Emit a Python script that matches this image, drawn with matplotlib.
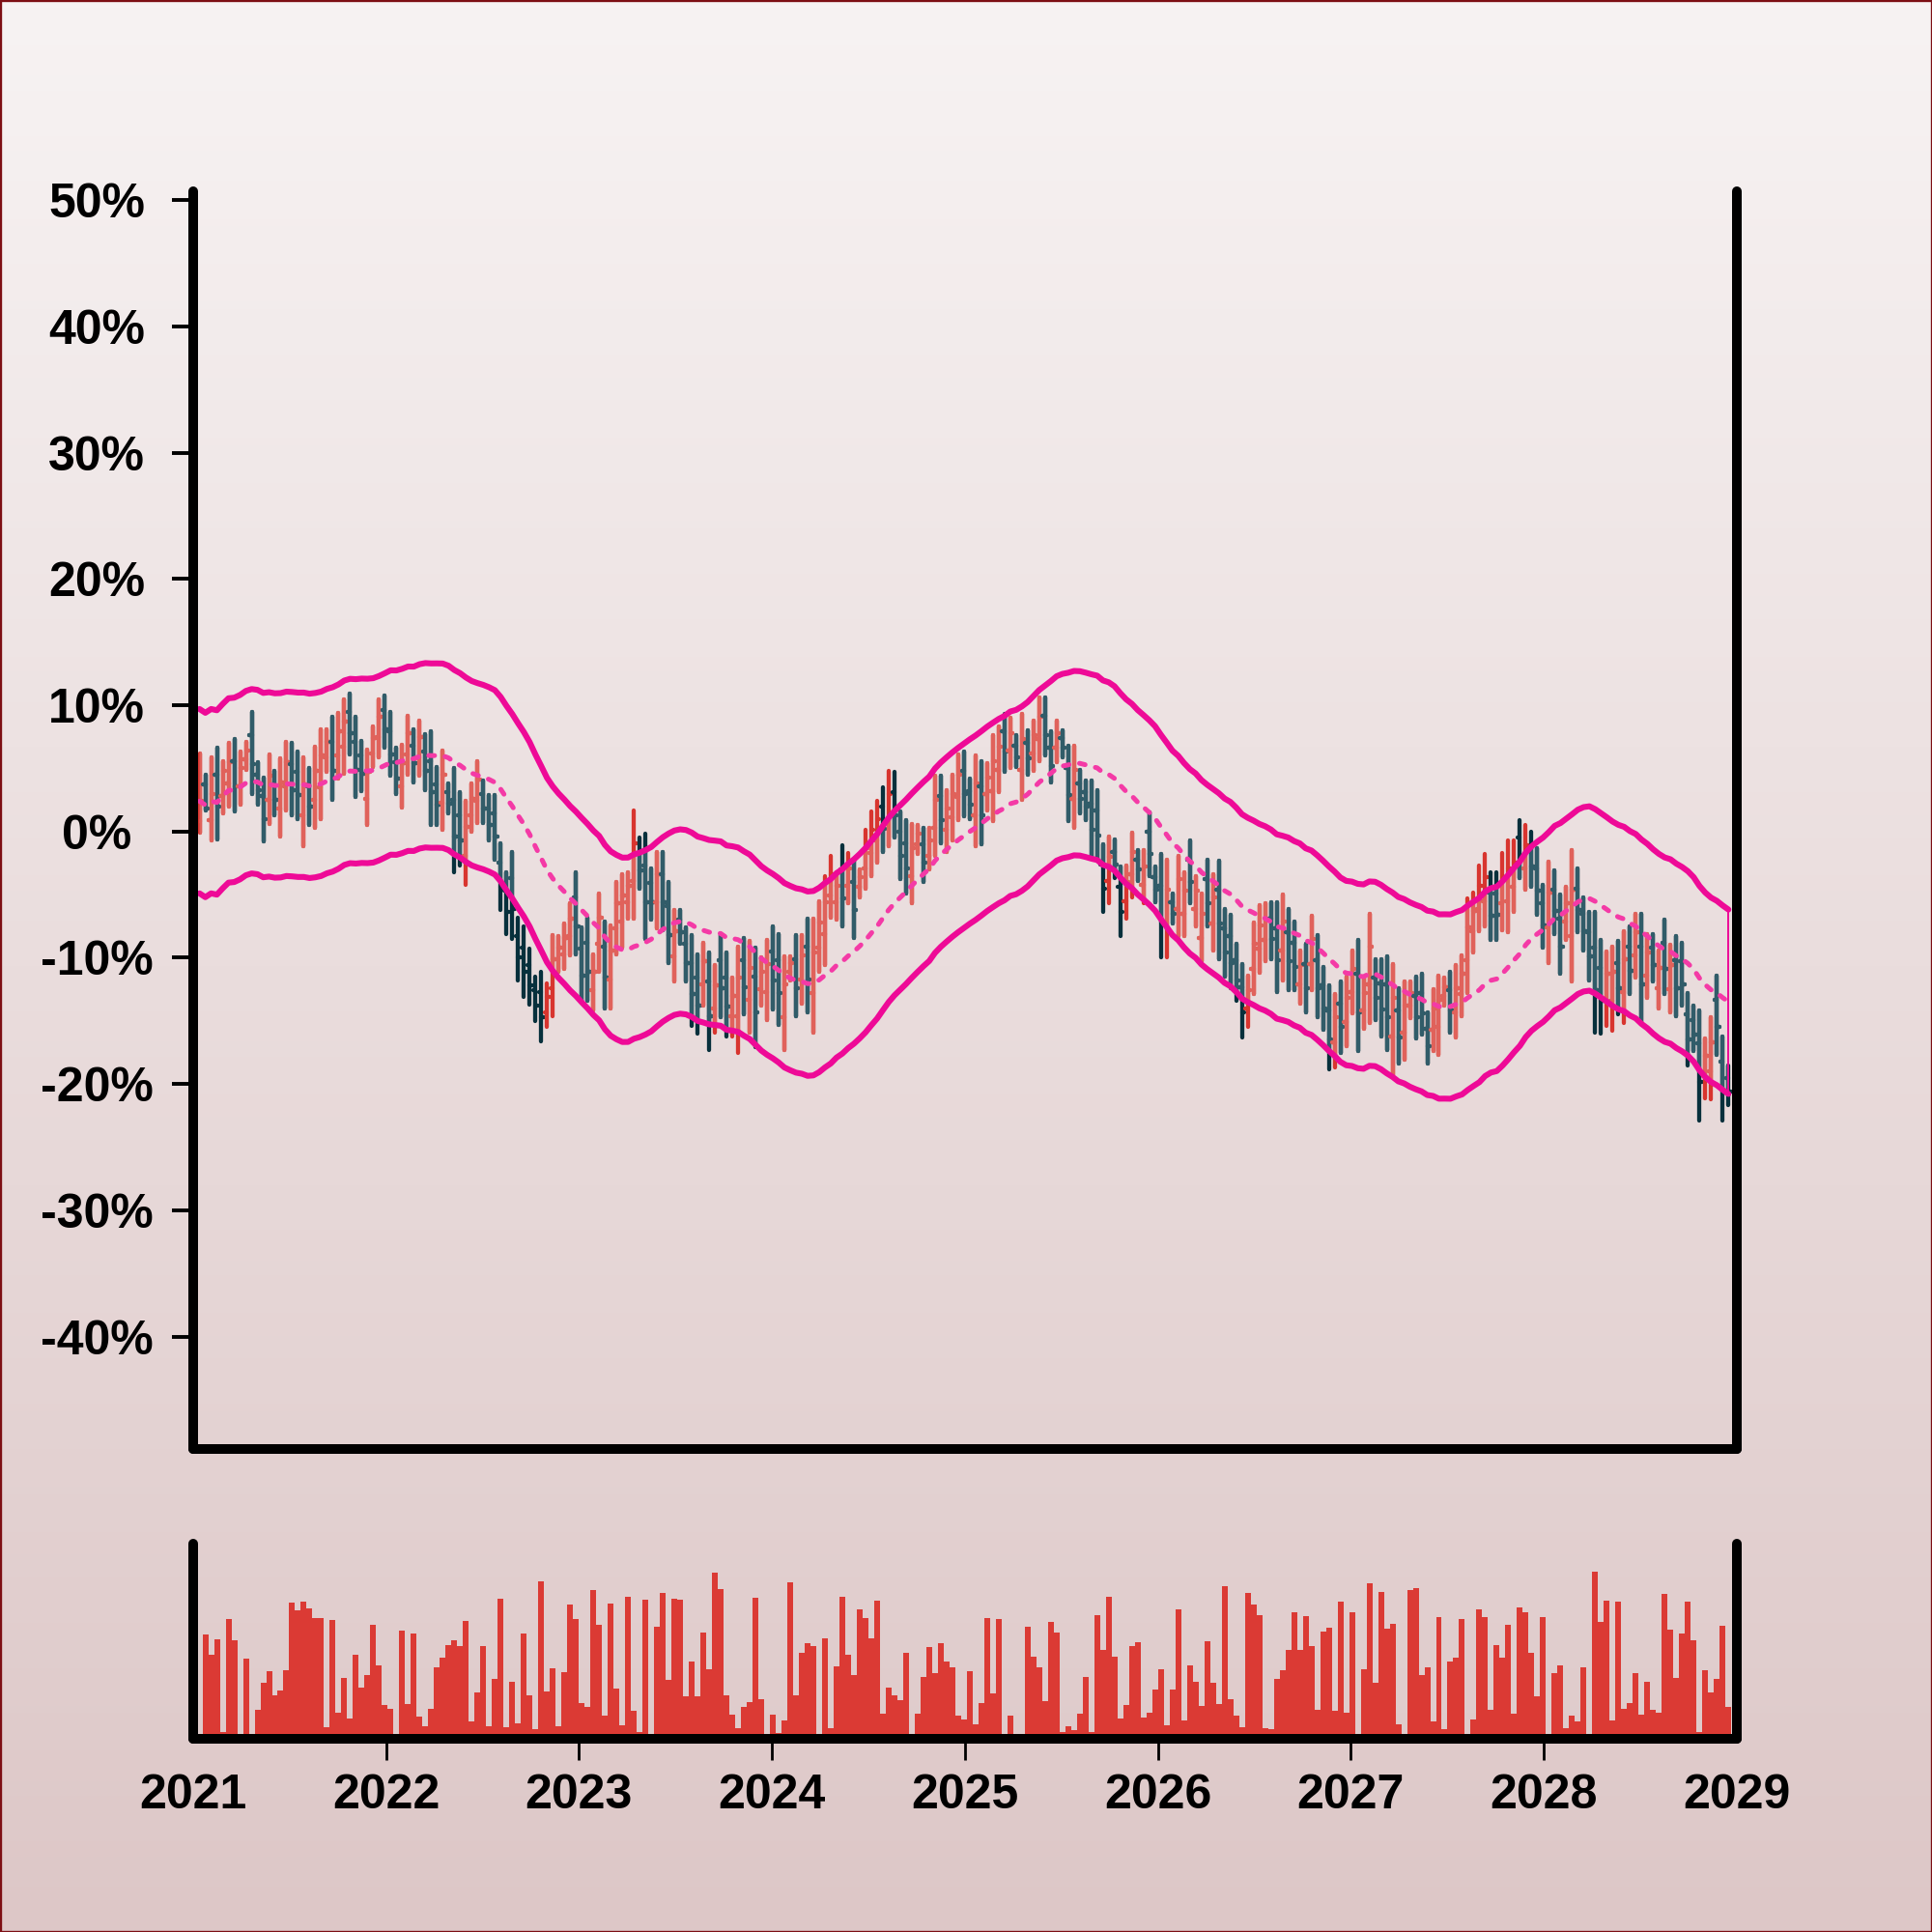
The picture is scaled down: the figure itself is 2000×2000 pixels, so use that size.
import matplotlib
matplotlib.use("Agg")
import matplotlib.pyplot as plt
import matplotlib.dates as mdates
from matplotlib.collections import LineCollection
from matplotlib.patches import Rectangle
from matplotlib.ticker import FuncFormatter
import numpy as np
import pandas as pd

# OHLC values in percent, one bar every ~11 days
highs = [
    6.2, 4.5, 5.9, 6.6, 5.6, 7.0, 7.3, 6.3, 7.1, 9.5,
    5.5, 4.3, 6.1, 4.8, 5.8, 7.1, 7.0, 6.3, 5.9, 5.0,
    6.7, 8.1, 8.1, 9.1, 9.4, 10.5, 10.9, 9.1, 7.2, 6.5,
    8.3, 10.5, 10.8, 9.5, 6.6, 6.9, 9.2, 8.1, 8.8, 7.7,
    7.9, 5.1, 6.4, 3.8, 5.0, 3.1, 2.4, 3.8, 5.6, 4.0,
    2.9, 2.9, -0.9, -3.2, -1.6, -6.8, -7.5, -9.3, -11.5, -11.1,
    -12.0, -8.2, -8.3, -7.3, -5.7, -3.2, -7.6, -6.8, -9.7, -4.9,
    -7.1, -7.4, -4.0, -3.4, -3.2, 1.7, -0.5, -0.2, -2.9, -1.6,
    -1.6, -4.0, -6.2, -6.2, -7.6, -8.2, -9.7, -8.8, -9.6, -10.6,
    -8.2, -9.6, -11.6, -9.1, -8.4, -8.7, -9.2, -10.0, -8.6, -7.5,
    -8.1, -9.9, -9.9, -8.2, -8.2, -6.9, -6.9, -5.5, -3.5, -1.9,
    -3.2, -1.1, -1.7, -2.2, -3.0, 0.1, 1.6, 2.4, 3.5, 4.8,
    4.7, 1.6, 0.9, 0.6, 0.5, 0.3, 0.3, 4.4, 4.4, 3.3,
    4.5, 6.1, 6.3, 4.2, 6.0, 5.6, 5.4, 7.6, 8.3, 9.3,
    9.0, 7.6, 9.3, 8.0, 8.8, 10.6, 10.6, 7.9, 8.8, 8.0,
    6.8, 6.8, 4.9, 4.0, 4.0, 3.3, -1.0, -0.4, -0.6, -2.8,
    -2.7, -0.1, -1.5, -1.5, 1.5, -2.8, -1.8, -2.2, -4.9, -1.9,
    -3.2, -0.7, -3.5, -4.9, -2.2, -3.4, -2.3, -6.1, -6.6, -8.9,
    -10.5, -11.4, -7.2, -5.8, -5.7, -5.6, -5.6, -5.0, -6.1, -7.1,
    -9.4, -8.9, -6.7, -8.2, -10.7, -12.2, -12.9, -11.9, -11.5, -9.4,
    -8.6, -11.6, -6.5, -10.1, -10.1, -9.9, -10.5, -12.4, -11.9, -11.9,
    -11.5, -11.3, -14.3, -12.5, -11.4, -11.6, -11.1, -10.6, -9.8, -5.3,
    -4.8, -2.7, -1.8, -3.2, -3.2, -1.7, -0.7, -0.7, 0.9, 0.5,
    0.0, -1.3, -4.2, -2.4, -3.1, -5.0, -4.4, -1.5, -2.9, -5.2,
    -6.4, -6.4, -8.6, -9.5, -9.1, -8.7, -7.9, -7.5, -6.5, -6.5,
    -8.1, -8.1, -9.4, -7.0, -9.0, -8.3, -8.8, -12.8, -13.8, -14.2,
    -16.4, -14.7, -11.4, -16.2, -18.5,
]
lows = [
    -0.1, 1.7, -0.7, -0.6, 1.4, 2.0, 1.6, 2.1, 4.9, 3.0,
    2.1, -0.8, 0.6, 1.3, -0.4, 1.7, 1.3, 1.0, -1.2, 0.5,
    0.3, 1.0, 4.7, 2.5, 4.2, 4.6, 6.1, 2.7, 3.2, 0.5,
    5.1, 5.9, 6.6, 4.4, 3.0, 1.9, 4.5, 3.9, 4.4, 3.3,
    0.5, 0.5, 0.1, 1.4, -3.2, -2.7, -4.2, 0.0, 0.7, 0.7,
    -0.7, -2.2, -6.2, -8.1, -8.5, -11.8, -13.1, -13.7, -15.0, -16.6,
    -15.5, -14.6, -11.1, -10.9, -9.8, -9.7, -13.4, -13.4, -14.2, -11.1,
    -14.0, -14.0, -9.7, -9.2, -6.9, -6.9, -4.5, -8.5, -7.0, -7.7,
    -7.8, -10.4, -11.9, -8.9, -11.9, -15.4, -16.0, -13.8, -17.3, -15.9,
    -14.7, -16.2, -16.2, -17.5, -14.5, -15.9, -17.1, -13.8, -14.9, -14.1,
    -15.3, -17.3, -11.8, -14.6, -13.6, -14.3, -15.9, -11.1, -10.6, -6.8,
    -7.0, -7.5, -5.7, -8.4, -5.2, -4.5, -3.5, -2.5, -1.6, -1.2,
    -0.5, -3.8, -4.9, -5.7, -1.8, -4.0, -3.0, -1.9, -0.9, -1.6,
    -0.7, 0.9, 1.2, 1.0, -1.2, -1.0, 1.7, 0.8, 3.1, 4.7,
    5.0, 5.1, 2.5, 4.5, 4.8, 5.6, 6.0, 3.9, 5.5, 5.9,
    0.8, 0.3, 1.4, 0.9, -2.0, -2.2, -6.4, -5.7, -3.7, -8.3,
    -6.9, -5.2, -3.9, -5.7, -3.5, -5.6, -10.0, -10.0, -7.3, -8.3,
    -8.3, -5.7, -7.5, -10.3, -7.5, -9.4, -10.1, -11.5, -12.4, -13.4,
    -16.3, -15.5, -12.9, -11.2, -10.3, -10.1, -12.7, -11.8, -12.6, -12.6,
    -13.6, -14.3, -12.6, -14.7, -15.7, -18.8, -18.7, -17.5, -17.0, -14.4,
    -17.4, -15.6, -15.2, -14.9, -16.2, -17.3, -19.3, -18.4, -18.1, -14.8,
    -16.4, -16.1, -18.4, -17.4, -17.7, -13.8, -15.9, -16.3, -14.6, -12.8,
    -9.6, -7.9, -7.5, -8.6, -8.6, -7.8, -8.0, -6.4, -3.7, -4.6,
    -4.4, -6.6, -9.2, -10.4, -8.1, -11.3, -8.6, -11.9, -8.0, -9.4,
    -11.8, -15.9, -16.0, -15.4, -15.8, -14.5, -15.2, -12.9, -11.6, -15.2,
    -13.2, -11.9, -14.0, -12.9, -14.3, -14.6, -13.8, -18.5, -17.4, -22.9,
    -21.1, -21.2, -17.7, -22.9, -21.7,
]
opens = [
    0.8, 3.7, 0.9, 4.5, 2.8, 3.8, 5.6, 3.6, 5.7, 7.6,
    4.5, 2.8, 2.5, 3.7, 1.8, 3.6, 5.3, 4.7, 1.3, 3.6,
    2.5, 3.5, 5.9, 7.1, 6.0, 6.7, 9.5, 7.1, 6.0, 2.6,
    6.2, 7.5, 9.6, 7.9, 5.5, 3.6, 6.1, 6.8, 5.9, 6.3,
    5.6, 3.7, 2.3, 3.1, 2.5, 1.3, -1.9, 1.3, 2.4, 3.0,
    1.8, 1.4, -2.5, -4.7, -3.7, -8.3, -9.2, -10.6, -12.6, -12.7,
    -14.3, -12.4, -10.1, -9.7, -8.3, -5.2, -9.3, -8.8, -12.6, -8.9,
    -9.1, -11.7, -7.7, -7.1, -5.6, -3.9, -1.7, -2.7, -4.1, -5.6,
    -3.4, -5.9, -9.9, -7.0, -8.9, -10.4, -11.6, -12.1, -11.9, -14.0,
    -10.2, -11.6, -14.6, -14.6, -10.2, -13.3, -11.5, -12.5, -12.7, -9.5,
    -10.2, -14.7, -11.1, -10.1, -11.7, -9.1, -12.8, -9.2, -8.1, -5.1,
    -5.6, -3.0, -4.3, -4.0, -4.4, -2.9, -1.7, -0.7, 2.0, 0.9,
    3.1, 0.0, -0.9, -3.5, -1.0, -1.0, -1.9, 0.3, 2.8, 0.1,
    1.1, 2.7, 4.8, 3.2, 1.3, 3.6, 3.0, 3.2, 4.9, 7.9,
    6.4, 6.8, 4.9, 7.0, 6.2, 7.3, 9.2, 6.6, 6.6, 7.4,
    5.0, 2.6, 3.8, 3.1, 2.2, 1.7, -2.6, -3.9, -1.6, -4.4,
    -5.5, -3.4, -2.2, -4.2, 0.0, -3.6, -4.3, -7.3, -5.6, -6.1,
    -6.5, -2.2, -6.1, -8.4, -3.8, -7.3, -4.6, -7.7, -8.3, -10.2,
    -12.3, -14.0, -10.9, -9.3, -8.6, -6.9, -7.7, -9.4, -8.0, -8.8,
    -12.1, -10.5, -10.5, -10.2, -12.2, -14.2, -16.7, -13.6, -15.1, -12.7,
    -11.3, -14.2, -12.1, -11.6, -12.0, -12.1, -16.2, -14.2, -15.9, -13.8,
    -13.0, -12.8, -15.6, -15.7, -15.5, -13.0, -12.6, -14.3, -12.9, -10.2,
    -7.9, -6.1, -5.5, -4.8, -4.9, -5.7, -5.5, -4.4, -0.5, -2.9,
    -1.3, -2.9, -5.7, -7.6, -4.6, -6.9, -7.1, -8.3, -4.5, -6.5,
    -8.0, -9.2, -10.8, -13.4, -13.4, -10.4, -12.7, -9.1, -9.8, -9.1,
    -11.4, -9.2, -12.4, -8.8, -12.5, -10.2, -10.3, -14.5, -14.9, -16.8,
    -19.4, -19.0, -13.3, -18.2, -19.5,
]
closes = [
    2.4, 1.8, 3.0, 2.0, 4.8, 5.5, 3.6, 5.0, 6.4, 5.3,
    3.3, 1.0, 4.4, 2.5, 3.9, 5.5, 3.3, 2.9, 3.7, 2.0,
    4.8, 6.0, 7.1, 4.8, 7.9, 8.7, 7.8, 4.9, 4.6, 4.7,
    7.4, 9.1, 8.1, 6.1, 4.2, 5.4, 7.8, 5.4, 7.5, 4.8,
    3.1, 2.1, 4.5, 2.2, -0.4, -0.7, 0.4, 2.6, 4.1, 1.8,
    0.5, -0.4, -4.4, -6.4, -6.1, -10.0, -11.1, -12.2, -13.8, -14.7,
    -13.1, -10.1, -9.2, -8.4, -6.9, -7.5, -11.4, -11.1, -11.1, -6.8,
    -11.6, -9.4, -5.7, -5.1, -4.3, -0.9, -3.1, -5.6, -5.6, -3.4,
    -5.6, -8.2, -7.9, -8.0, -10.4, -12.9, -13.8, -10.3, -14.6, -12.2,
    -12.4, -13.9, -13.0, -11.6, -12.3, -10.8, -14.3, -11.1, -10.5, -11.8,
    -12.8, -12.1, -10.4, -12.4, -9.8, -11.7, -9.6, -7.2, -5.6, -3.4,
    -4.3, -5.3, -2.9, -6.2, -3.6, -1.3, 0.1, 1.0, 0.2, 3.0,
    1.3, -1.9, -2.9, -1.3, -0.2, -2.5, -0.7, 2.5, 0.9, 1.8,
    3.0, 4.5, 3.0, 2.1, 3.8, 1.3, 4.3, 5.6, 6.7, 6.3,
    7.8, 5.9, 7.3, 5.8, 7.6, 9.1, 7.6, 5.2, 7.8, 6.6,
    2.9, 4.9, 2.6, 2.0, 0.1, -0.3, -4.5, -2.0, -2.6, -6.4,
    -4.0, -1.6, -3.0, -2.8, -1.8, -4.6, -7.2, -4.6, -6.5, -3.8,
    -4.7, -4.0, -4.7, -6.5, -5.7, -5.2, -7.3, -9.6, -10.4, -11.8,
    -14.3, -12.6, -8.9, -7.4, -7.0, -8.5, -10.2, -7.1, -10.3, -10.7,
    -10.6, -12.4, -8.5, -12.4, -14.0, -16.5, -14.7, -15.5, -13.2, -10.9,
    -14.3, -12.8, -9.1, -13.2, -14.1, -14.7, -13.2, -16.3, -13.8, -12.8,
    -14.7, -14.4, -17.0, -14.0, -13.3, -12.3, -14.2, -12.4, -11.3, -7.6,
    -6.3, -4.3, -3.6, -6.7, -6.6, -3.6, -2.9, -2.5, -2.1, -1.1,
    -2.8, -4.7, -7.4, -4.8, -6.3, -9.1, -5.7, -4.6, -6.2, -7.9,
    -9.9, -12.6, -13.4, -11.3, -11.1, -12.4, -10.1, -11.0, -8.0, -12.1,
    -9.6, -10.6, -10.8, -10.9, -10.6, -12.4, -12.1, -16.5, -16.1, -19.8,
    -17.8, -16.7, -15.5, -20.6, -20.6,
]
volumes = [
    0, 324, 262, 309, 20, 372, 305, 0, 249, 12,
    89, 174, 209, 134, 150, 212, 422, 399, 425, 406,
    374, 375, 36, 369, 81, 188, 62, 260, 159, 198,
    354, 228, 104, 92, 0, 335, 107, 326, 70, 39,
    92, 223, 252, 291, 307, 288, 365, 53, 143, 287,
    39, 187, 436, 37, 176, 48, 326, 134, 30, 489,
    147, 219, 40, 207, 418, 371, 110, 99, 462, 355,
    71, 420, 157, 42, 442, 88, 22, 431, 0, 348,
    453, 182, 434, 431, 132, 239, 132, 329, 215, 515,
    464, 135, 75, 34, 99, 115, 438, 122, 12, 74,
    19, 56, 486, 135, 266, 297, 289, 0, 312, 32,
    226, 440, 260, 199, 401, 374, 312, 428, 79, 158,
    135, 120, 267, 0, 79, 192, 285, 205, 296, 239,
    223, 72, 61, 210, 44, 112, 376, 140, 371, 12,
    71, 11, 7, 347, 255, 223, 116, 364, 329, 22,
    40, 26, 79, 193, 21, 383, 277, 440, 254, 63,
    104, 289, 300, 67, 82, 152, 215, 42, 152, 403,
    57, 227, 176, 101, 304, 175, 108, 475, 124, 71,
    35, 454, 416, 383, 33, 29, 186, 212, 275, 392,
    277, 382, 287, 89, 332, 346, 88, 427, 81, 392,
    4, 215, 482, 174, 455, 342, 356, 44, 6, 461,
    467, 198, 221, 55, 379, 29, 239, 251, 371, 0,
    59, 401, 377, 90, 290, 252, 354, 77, 409, 392,
    268, 132, 377, 10, 204, 227, 34, 72, 55, 222,
    0, 519, 364, 429, 57, 425, 94, 110, 205, 76,
    177, 90, 80, 449, 339, 190, 327, 426, 306, 20,
    213, 145, 187, 350, 99,
]
ma_window = 22
band_half = 7.3

dates = pd.date_range("2021-01-13", "2028-12-16", periods=len(closes))

plt.rcParams["font.family"] = ["Liberation Sans", "DejaVu Sans"]
plt.rcParams["font.weight"] = "bold"

UP, DOWN = "#e0625b", "#315c69"
UP_OUT, DOWN_OUT = "#d8352f", "#07303c"
BAND, MID = "#ee0a97", "#f43aa6"

fig = plt.figure(figsize=(10, 10), dpi=200)

# background gradient
bg = fig.add_axes([0, 0, 1, 1], zorder=-5)
top = np.array([247, 243, 243]) / 255
bot = np.array([221, 199, 199]) / 255
t = np.linspace(0, 1, 256)[:, None]
grad = top * (1 - t) + bot * t
bg.imshow(grad[:, None, :], aspect="auto", extent=[0, 1, 0, 1])
bg.axis("off")

ax = fig.add_axes([0.1, 0.25, 0.799, 0.651])
vax = fig.add_axes([0.1, 0.1, 0.799, 0.101])
for a in (ax, vax):
    a.set_facecolor("none")
    a.spines["top"].set_visible(False)
    for s in ("left", "right", "bottom"):
        a.spines[s].set_linewidth(3.6)
        a.spines[s].set_capstyle("round")
        a.spines[s].set_color("black")
        a.spines[s].set_zorder(6)

x = mdates.date2num(dates)
step = x[1] - x[0]
mid = pd.Series(closes).rolling(ma_window, min_periods=1).mean().to_numpy()
upper = mid + band_half
lower = mid - band_half

# OHLC bars: darker shade outside the band, normal shade clipped inside it
tick = 0.4 * step
segs, c_in, c_out = [], [], []
for xi, o, h, l, c in zip(x, opens, highs, lows, closes):
    segs += [[(xi, l), (xi, h)], [(xi - tick, o), (xi, o)], [(xi, c), (xi + tick, c)]]
    up = c >= o
    c_in += [UP if up else DOWN] * 3
    c_out += [UP_OUT if up else DOWN_OUT] * 3

band = ax.fill_between(x, lower, upper, facecolor="none", edgecolor="none")
lc_out = LineCollection(segs, colors=c_out, linewidths=1.55, capstyle="round", zorder=2)
ax.add_collection(lc_out)
lc_in = LineCollection(segs, colors=c_in, linewidths=1.55, capstyle="round", zorder=3)
ax.add_collection(lc_in)
lc_in.set_clip_path(band.get_paths()[0], ax.transData)

ax.plot(x, upper, color=BAND, lw=2.2, zorder=4, solid_capstyle="round")
ax.plot(x, lower, color=BAND, lw=2.2, zorder=4, solid_capstyle="round")
ax.plot([x[-1], x[-1]], [lower[-1], upper[-1]], color=BAND, lw=0.7, zorder=4)
ax.plot(x, mid, color=MID, lw=1.8, zorder=4, dashes=(1.2, 2.2), dash_capstyle="round")

xlim = (mdates.date2num(pd.Timestamp("2021-01-01")), mdates.date2num(pd.Timestamp("2029-01-01")))
ax.set_xlim(xlim)
ax.set_ylim(-48.9, 50.7)
ax.tick_params(axis="x", bottom=False, labelbottom=False)
ax.set_yticks(range(-40, 51, 10))
ax.yaxis.set_major_formatter(FuncFormatter(lambda v, p: f"{v:.0f}%"))
ax.tick_params(axis="y", length=8, width=1.4, pad=28, labelsize=18)
plt.setp(ax.get_yticklabels(), ha="center")

# volume
vax.bar(x, volumes, width=step, color="#db3a34", linewidth=0, zorder=2)
vax.set_xlim(xlim)
vax.set_ylim(0, 606)
vax.set_yticks([])
vax.xaxis.set_major_locator(mdates.YearLocator())
vax.xaxis.set_major_formatter(mdates.DateFormatter("%Y"))
vax.tick_params(axis="x", length=8, width=1.0, pad=5, labelsize=18)
xticks = vax.xaxis.get_major_ticks()
for tk in (xticks[0], xticks[-1]):
    tk.tick1line.set_visible(False)

fig.patches.append(Rectangle((0, 0), 1, 1, transform=fig.transFigure, fill=False,
                             edgecolor="#7d0f14", linewidth=1.2))

fig.savefig("out.png", dpi=200)
